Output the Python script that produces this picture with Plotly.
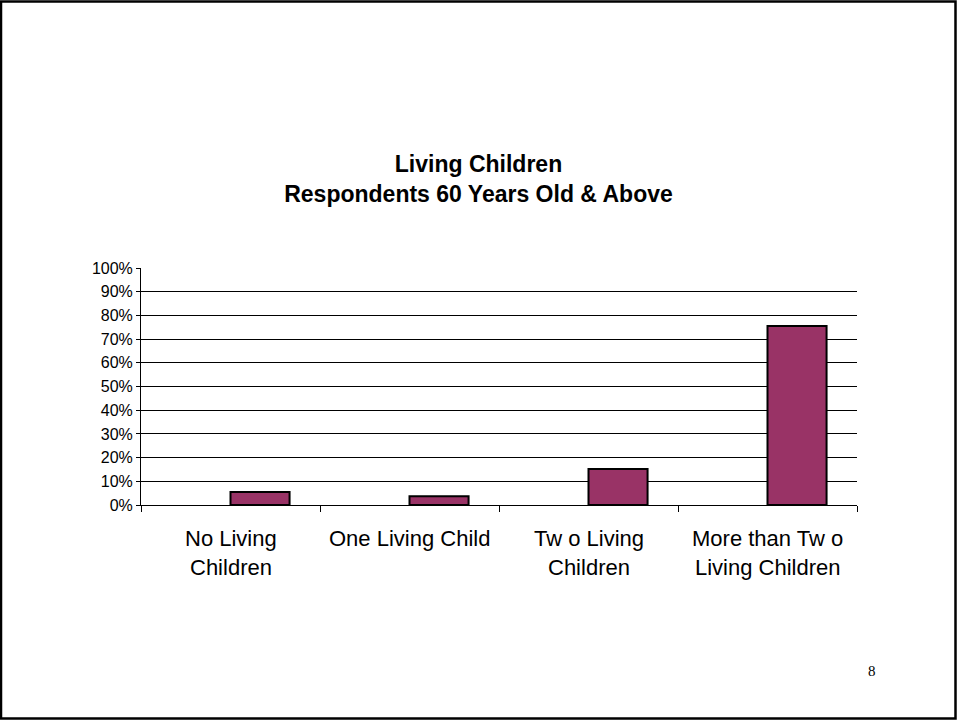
import plotly.graph_objects as go

categories = ["No Living<br>Children", "One Living Child", "Tw o Living<br>Children", "More than Tw o<br>Living Children"]
values = [0.055, 0.037, 0.152, 0.755]
y_ticks = [i / 10 for i in range(11)]

W, H = 957, 720
L, R, T, B = 141, 100, 268, 215
pw, ph = W - L - R, H - T - B

def px(x):
    return (x - L) / pw

def py(y):
    return (H - B - y) / ph

fig = go.Figure()
fig.add_trace(go.Bar(
    x=categories, y=values,
    offset=0, width=0.33,
    marker=dict(color="#993366", line=dict(color="black", width=2)),
    hoverinfo="skip",
))

# category labels, one annotation per text line (for the reference's line spacing)
line_y = [538, 567]
label_annots = []
for cat in categories:
    for i, part in enumerate(cat.split("<br>")):
        label_annots.append(dict(
            text=part, x=cat, xref="x", yref="paper", y=py(line_y[i]),
            xanchor="center", yanchor="middle", showarrow=False,
            font=dict(size=22, family="Liberation Sans, Arial, sans-serif", color="black"),
        ))

fig.update_layout(
    width=W, height=H,
    margin=dict(l=L, r=R, t=T, b=B, pad=0),
    paper_bgcolor="white", plot_bgcolor="white",
    showlegend=False,
    font=dict(family="Liberation Sans, Arial, sans-serif", color="black"),
    title=dict(
        text="<b>Living Children</b><br><b>Respondents 60 Years Old & Above</b>",
        x=0.5, xref="container", xanchor="center",
        y=1 - 172 / H, yref="container", yanchor="middle",
        font=dict(size=23, family="Liberation Sans, Arial, sans-serif", color="black"),
    ),
    xaxis=dict(
        type="category", range=[-0.5, 3.5],
        tickson="boundaries", ticks="outside", ticklen=6, tickcolor="black", tickwidth=1,
        showline=True, linecolor="black", linewidth=1,
        showgrid=False, zeroline=False, showticklabels=False,
    ),
    yaxis=dict(
        range=[0, 1], tickvals=y_ticks, tickformat=".0%",
        ticks="outside", ticklen=4, tickcolor="black",
        showline=True, linecolor="black", linewidth=1,
        showgrid=True, gridcolor="black", gridwidth=1,
        zeroline=False, tickfont=dict(size=16),
    ),
    shapes=[dict(
        type="rect", xref="paper", yref="paper",
        x0=px(1), x1=px(955.5), y0=py(718.5), y1=py(1.5),
        line=dict(color="black", width=2.5), fillcolor="rgba(0,0,0,0)", layer="above",
    )],
    annotations=label_annots + [dict(
        text="8", xref="paper", yref="paper", x=px(872), y=py(671),
        xanchor="center", yanchor="middle", showarrow=False,
        font=dict(family="Liberation Serif, Times New Roman, serif", size=15, color="black"),
    )],
)

fig.write_html(
    "out.html",
    config={"displayModeBar": False},
    post_script="document.body.style.margin='0';document.body.style.overflow='hidden';",
)
